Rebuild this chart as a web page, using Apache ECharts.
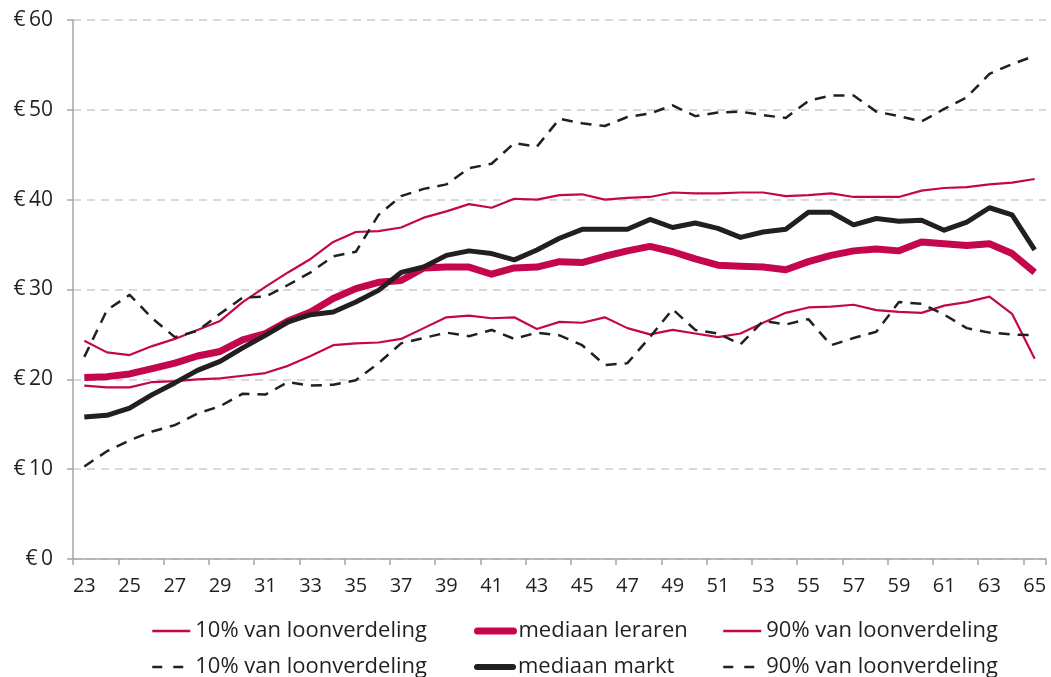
<!DOCTYPE html>
<html>
<head>
<meta charset="utf-8">
<script src="https://cdn.jsdelivr.net/npm/echarts@6/dist/echarts.min.js"></script>
<style>
  html, body { margin: 0; padding: 0; background: #fff; }
  #chart { width: 1051px; height: 677px; }
</style>
</head>
<body>
<div id="chart"></div>
<script>
// Hourly wage by age (€), teachers versus the wider market
const ages = [23,24,25,26,27,28,29,30,31,32,33,34,35,36,37,38,39,40,41,42,43,44,45,46,47,48,49,50,51,52,53,54,55,56,57,58,59,60,61,62,63,64,65].map(String);

const p10Leraren = [19.3,19.1,19.1,19.7,19.8,20.0,20.1,20.4,20.7,21.5,22.6,23.8,24.0,24.1,24.5,25.7,26.9,27.1,26.8,26.9,25.6,26.4,26.3,26.9,25.7,25.0,25.5,25.1,24.7,25.1,26.3,27.4,28.0,28.1,28.3,27.7,27.5,27.4,28.2,28.6,29.2,27.3,22.3];
const mediaanLeraren = [20.2,20.3,20.6,21.2,21.8,22.6,23.1,24.4,25.1,26.5,27.5,29.0,30.1,30.8,31.0,32.4,32.5,32.5,31.7,32.4,32.5,33.1,33.0,33.7,34.3,34.8,34.2,33.4,32.7,32.6,32.5,32.2,33.1,33.8,34.3,34.5,34.3,35.3,35.1,34.9,35.1,34.0,31.9];
const p90Leraren = [24.3,23.0,22.7,23.7,24.5,25.5,26.5,28.6,30.3,31.9,33.4,35.3,36.4,36.5,36.9,38.0,38.7,39.5,39.1,40.1,40.0,40.5,40.6,40.0,40.2,40.3,40.8,40.7,40.7,40.8,40.8,40.4,40.5,40.7,40.3,40.3,40.3,41.0,41.3,41.4,41.7,41.9,42.3];
const p10Markt = [10.3,12.0,13.2,14.2,14.9,16.2,17.0,18.4,18.3,19.7,19.3,19.4,19.9,21.8,24.0,24.6,25.2,24.8,25.5,24.5,25.2,24.9,23.8,21.6,21.8,24.7,27.8,25.5,25.1,23.9,26.5,26.1,26.7,23.8,24.6,25.3,28.6,28.4,27.2,25.7,25.2,25.0,24.9];
const mediaanMarkt = [15.8,16.0,16.8,18.3,19.6,21.0,22.0,23.5,24.9,26.4,27.2,27.5,28.6,29.9,31.9,32.5,33.8,34.3,34.0,33.3,34.4,35.7,36.7,36.7,36.7,37.8,36.9,37.4,36.8,35.8,36.4,36.7,38.6,38.6,37.2,37.9,37.6,37.7,36.6,37.5,39.1,38.3,34.4];
const p90Markt = [22.5,27.7,29.4,26.8,24.7,25.4,27.3,29.1,29.2,30.5,31.9,33.7,34.2,38.3,40.4,41.2,41.7,43.5,44.0,46.3,45.9,49.0,48.5,48.2,49.2,49.6,50.5,49.3,49.7,49.8,49.4,49.1,51.0,51.6,51.6,49.8,49.3,48.7,50.1,51.4,54.0,55.1,56.0];

// Legend texts (two series share the same visible label)
const legendText = {
  'p10 leraren': '10% van loonverdeling',
  'mediaan leraren': 'mediaan leraren',
  'p90 leraren': '90% van loonverdeling',
  'p10 markt': '10% van loonverdeling',
  'mediaan markt': 'mediaan markt',
  'p90 markt': '90% van loonverdeling'
};

const RED = '#c4074d';
const BLACK = '#231f20';
const TEXT = '#231f20';
const FONT = "'Open Sans', 'Noto Sans', sans-serif";

function lineSeries(name, data, color, width, type, z) {
  return {
    name: name,
    type: 'line',
    data: data,
    symbol: 'none',
    showSymbol: false,
    z: z,
    lineStyle: { color: color, width: width, type: type, join: 'round' },
    itemStyle: { color: color },
    emphasis: { disabled: true }
  };
}

// One legend entry per block so each can sit in its own column/row
function legendEntry(name, left, top, itemWidth, line) {
  return {
    left: left,
    top: top,
    orient: 'horizontal',
    itemWidth: itemWidth,
    itemHeight: 14,
    selectedMode: false,
    formatter: n => legendText[n],
    itemStyle: { opacity: 0 },
    lineStyle: line,
    textStyle: {
      fontFamily: FONT, fontSize: 22, color: TEXT, lineHeight: 22
    },
    data: [name]
  };
}

const chart = echarts.init(document.getElementById('chart'), null, { renderer: 'canvas' });

chart.setOption({
  animation: false,
  backgroundColor: '#ffffff',
  grid: { left: 73, right: 5, top: 20, bottom: 118, containLabel: false },
  legend: [
    legendEntry('p10 leraren', 146, 615, 38, { width: 2.5 }),
    legendEntry('p10 markt', 146, 651, 38, { width: 2.5, type: [10, 11] }),
    legendEntry('mediaan leraren', 469, 615, 36, { width: 7, cap: 'round' }),
    legendEntry('mediaan markt', 469, 651, 36, { width: 6, cap: 'round' }),
    legendEntry('p90 leraren', 717, 615, 38, { width: 2.5 }),
    legendEntry('p90 markt', 717, 651, 38, { width: 2.5, type: [10, 11] })
  ],
  xAxis: {
    type: 'category',
    data: ages,
    boundaryGap: true,
    axisLine: { lineStyle: { color: '#a6a6a6', width: 1.5 } },
    axisTick: { show: true, interval: 1, length: 6, lineStyle: { color: '#a6a6a6', width: 1.5 } },
    axisLabel: { interval: 1, margin: 17, fontFamily: FONT, fontSize: 20, color: TEXT },
    splitLine: { show: false }
  },
  yAxis: {
    type: 'value',
    min: 0,
    max: 60,
    interval: 10,
    axisLine: { show: true, lineStyle: { color: '#a6a6a6', width: 1.5 } },
    axisTick: { show: true, length: 6, lineStyle: { color: '#a6a6a6', width: 1.5 } },
    axisLabel: {
      margin: 20, fontFamily: FONT, fontSize: 21, color: TEXT,
      formatter: v => '€\u2009' + v
    },
    splitLine: { show: true, lineStyle: { color: '#d9d9d9', width: 2, type: [8, 6] } }
  },
  series: [
    lineSeries('p10 leraren', p10Leraren, RED, 2.2, 'solid', 2),
    lineSeries('p90 leraren', p90Leraren, RED, 2.2, 'solid', 2),
    lineSeries('mediaan leraren', mediaanLeraren, RED, 7, 'solid', 3),
    lineSeries('p10 markt', p10Markt, BLACK, 2.5, [11, 8], 4),
    lineSeries('p90 markt', p90Markt, BLACK, 2.5, [11, 8], 4),
    lineSeries('mediaan markt', mediaanMarkt, BLACK, 5, 'solid', 5)
  ]
});
</script>
</body>
</html>
